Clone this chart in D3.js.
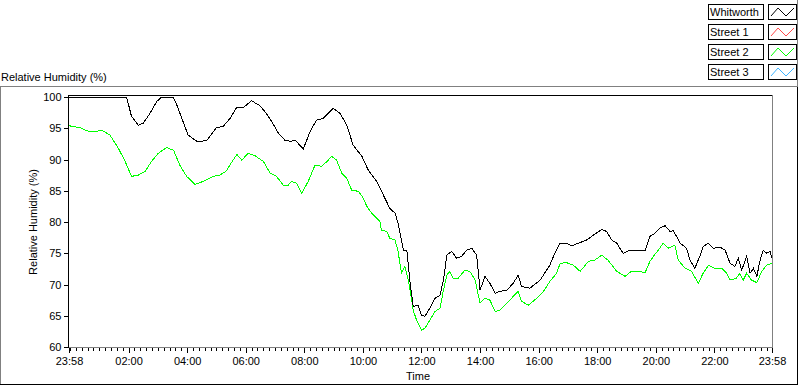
<!DOCTYPE html>
<html>
<head>
<meta charset="utf-8">
<script src="https://cdn.jsdelivr.net/npm/d3@7"></script>
<style>
    body { margin: 0; background: #fff; }
    svg text { font-family: "Liberation Sans", Arial, sans-serif; font-size: 11px; fill: #000; }
</style>
</head>
<body>
<div id="chart"></div>
<script>
// -----------------------------
// DATA
// -----------------------------
const seriesNames = ["Whitworth", "Street 1", "Street 2", "Street 3"];
const seriesColors = ["#000000", "#ff4a4a", "#00ff00", "#3fb4ff"];

const yTicks = [60, 65, 70, 75, 80, 85, 90, 95, 100];
const xTickLabels = ["23:58", "02:00", "04:00", "06:00", "08:00", "10:00", "12:00",
    "14:00", "16:00", "18:00", "20:00", "22:00", "23:58"];

const whitworthTimes = ["23:58", "01:56", "02:06", "02:20", "02:30", "02:44", "02:58", "03:08", "03:31",
    "03:39", "03:49", "04:02", "04:20", "04:40", "05:00", "05:14", "05:28", "05:42", "05:55", "06:12",
    "06:29", "06:39", "06:53", "07:07", "07:20", "07:31", "07:41", "07:58", "08:12", "08:25", "08:39",
    "08:59", "09:13", "09:27", "09:40", "09:58", "10:11", "10:28", "10:42", "10:55", "11:06", "11:12",
    "11:23", "11:30", "11:36", "11:43", "11:53", "12:00", "12:07", "12:17", "12:28", "12:38", "12:45",
    "12:52", "13:02", "13:12", "13:22", "13:33", "13:43", "13:53", "14:00", "14:10", "14:20", "14:31",
    "14:41", "14:55", "15:08", "15:18", "15:25", "15:42", "16:03", "16:23", "16:33", "16:44", "16:57",
    "17:08", "17:21", "17:38", "17:52", "18:09", "18:19", "18:30", "18:40", "18:53", "19:07", "19:21",
    "19:38", "19:48", "19:58", "20:08", "20:19", "20:29", "20:36", "20:50", "21:03", "21:10", "21:20",
    "21:30", "21:37", "21:48", "21:58", "22:11", "22:22", "22:32", "22:42", "22:49", "22:56", "23:06",
    "23:13", "23:20", "23:27", "23:33", "23:40", "23:47", "23:54", "23:58"];
const whitworthRH = [100, 100, 96.9, 95.5, 95.8, 97.4, 99.3, 100, 100,
    98.7, 96.6, 93.9, 92.9, 93.0, 95.1, 95.3, 96.6, 98.4, 98.3, 99.4,
    98.6, 97.7, 96.1, 94.2, 93.1, 92.9, 93.1, 91.7, 94.5, 96.3, 96.6,
    98.2, 97.4, 95.5, 92.3, 90.5, 88.3, 86.5, 84.3, 82.2, 81.4, 79.8,
    75.5, 75.5, 70.7, 66.5, 66.7, 65.1, 64.9, 66.2, 67.8, 68.3, 70.7,
    74.7, 75.3, 74.2, 74.5, 75.5, 75.8, 74.7, 69.1, 71.3, 70.2, 68.6,
    68.9, 69.1, 70.2, 71.5, 69.7, 69.4, 70.7, 73.1, 75.0, 76.6, 76.6,
    76.2, 76.6, 77.1, 77.9, 78.8, 78.5, 77.1, 76.6, 75.0, 75.5, 75.5,
    75.4, 77.7, 78.2, 79.0, 79.4, 78.5, 78.6, 76.6, 75.8, 73.9, 72.6,
    74.5, 76.1, 76.6, 75.8, 76.0, 75.5, 73.4, 72.9, 74.2, 72.3, 74.5,
    71.8, 72.6, 71.3, 73.7, 75.5, 75.0, 75.3, 74.2];

const street2Times = ["23:58", "00:20", "00:38", "00:55", "01:05", "01:22", "01:39", "01:53", "02:06",
    "02:20", "02:34", "02:47", "03:01", "03:18", "03:32", "03:45", "03:59", "04:16", "04:33", "04:54",
    "05:07", "05:21", "05:28", "05:42", "05:52", "06:05", "06:19", "06:36", "06:50", "07:03", "07:17",
    "07:27", "07:34", "07:44", "07:55", "08:08", "08:22", "08:36", "08:49", "08:56", "09:06", "09:17",
    "09:27", "09:37", "09:51", "10:01", "10:08", "10:18", "10:35", "10:38", "10:49", "10:55", "11:06",
    "11:12", "11:19", "11:26", "11:33", "11:40", "11:43", "11:50", "12:00", "12:07", "12:17", "12:28",
    "12:38", "12:45", "12:52", "12:58", "13:05", "13:15", "13:29", "13:39", "13:50", "14:00", "14:10",
    "14:20", "14:31", "14:41", "14:55", "15:08", "15:18", "15:25", "15:39", "15:56", "16:10", "16:23",
    "16:37", "16:44", "16:57", "17:11", "17:25", "17:42", "17:55", "18:09", "18:22", "18:40", "18:57",
    "19:10", "19:27", "19:38", "19:48", "19:55", "20:08", "20:15", "20:25", "20:39", "20:46", "21:00",
    "21:13", "21:27", "21:37", "21:48", "22:01", "22:15", "22:25", "22:32", "22:45", "22:52", "22:59",
    "23:06", "23:16", "23:27", "23:37", "23:47", "23:58"];
const street2RH = [95.4, 95.1, 94.5, 94.5, 94.7, 93.9, 91.8, 89.7, 87.3,
    87.5, 88.1, 89.7, 91.0, 91.9, 91.5, 89.1, 87.3, 86.0, 86.5, 87.3,
    87.5, 88.2, 89.2, 90.8, 89.9, 91.0, 90.6, 89.7, 87.8, 87.3, 85.9,
    85.9, 86.5, 86.2, 84.6, 86.5, 89.1, 88.9, 89.9, 90.5, 89.9, 87.8,
    87.0, 85.1, 84.9, 83.8, 82.5, 81.4, 80.1, 78.7, 78.5, 77.4, 77.1,
    75.3, 71.8, 72.9, 70.7, 67.5, 65.9, 64.3, 62.7, 63.0, 64.3, 65.7,
    66.2, 69.1, 71.5, 72.1, 71.0, 71.0, 72.3, 72.1, 70.7, 67.0, 67.8,
    67.5, 65.7, 65.9, 67.0, 68.1, 68.9, 67.3, 66.7, 67.8, 68.9, 70.5,
    71.8, 73.4, 73.5, 73.1, 72.1, 73.7, 73.9, 74.7, 73.9, 72.1, 71.3,
    72.1, 72.1, 71.9, 73.7, 74.5, 75.8, 76.6, 75.8, 76.3, 73.9, 72.6,
    72.1, 70.2, 71.8, 73.1, 72.6, 72.6, 71.8, 70.7, 71.0, 71.8, 70.7,
    71.8, 70.7, 70.3, 72.1, 73.1, 73.4];

// -----------------------------
// TIME PARSING (day rolls over after midnight)
// -----------------------------
function toDates(times) {
    let day = 0, prev = -1;
    return times.map(s => {
        const [h, m] = s.split(":").map(Number);
        const mins = h * 60 + m;
        if (mins < prev) day++;
        prev = mins;
        return new Date(2000, 0, 1 + day, h, m);
    });
}

const lines = [
    { name: "Whitworth", color: seriesColors[0], dates: toDates(whitworthTimes), values: whitworthRH },
    { name: "Street 2", color: seriesColors[2], dates: toDates(street2Times), values: street2RH }
];

const majorDates = toDates(xTickLabels);

// -----------------------------
// SVG SETUP
// -----------------------------
const width = 800, height = 386;
const plot = { left: 69, right: 772, top: 97, bottom: 347 };

const svg = d3.select("#chart").append("svg")
    .attr("width", width)
    .attr("height", height);

const x = d3.scaleTime()
    .domain([majorDates[0], majorDates[majorDates.length - 1]])
    .range([plot.left, plot.right]);

const y = d3.scaleLinear()
    .domain([60, 100])
    .range([plot.bottom, plot.top]);

// -----------------------------
// OUTER FRAME
// -----------------------------
svg.append("path")
    .attr("d", `M0.5,385 V86.5 H798`)
    .attr("fill", "none").attr("stroke", "#808080").attr("shape-rendering", "crispEdges");
svg.append("path")
    .attr("d", `M797.5,87 V384.5 H0`)
    .attr("fill", "none").attr("stroke", "#000").attr("shape-rendering", "crispEdges");
svg.append("path")
    .attr("d", `M797.5,0 V87`)
    .attr("fill", "none").attr("stroke", "#808080").attr("shape-rendering", "crispEdges");

// -----------------------------
// TITLE + AXIS LABELS
// -----------------------------
svg.append("text").attr("x", 1).attr("y", 81).text("Relative Humidity (%)");

svg.append("text")
    .attr("transform", `translate(37,${(plot.top + plot.bottom) / 2}) rotate(-90)`)
    .attr("text-anchor", "middle")
    .text("Relative Humidity (%)");

svg.append("text")
    .attr("x", 418).attr("y", 380)
    .attr("text-anchor", "middle")
    .text("Time");

// -----------------------------
// PLOT FRAME
// -----------------------------
svg.append("path")
    .attr("d", `M${plot.left - 0.5},${plot.bottom} V${plot.top - 1.5} H${plot.right}`)
    .attr("fill", "none").attr("stroke", "#000").attr("shape-rendering", "crispEdges");
svg.append("path")
    .attr("d", `M${plot.right + 0.5},${plot.top - 2} V${plot.bottom + 0.5} H${plot.left}`)
    .attr("fill", "none").attr("stroke", "#808080").attr("shape-rendering", "crispEdges");

// -----------------------------
// AXES
// -----------------------------
const yAxis = svg.append("g")
    .attr("transform", `translate(${plot.left - 0.5},0)`)
    .call(d3.axisLeft(y).tickValues(yTicks).tickSize(5).tickPadding(2).tickSizeOuter(0));
yAxis.select(".domain").remove();

const minorDates = d3.timeMinute.every(12).range(x.domain()[0], x.domain()[1]);
const xMinor = svg.append("g")
    .attr("transform", `translate(0,${plot.bottom + 1})`)
    .call(d3.axisBottom(x).tickValues(minorDates).tickSize(3).tickFormat(""));
xMinor.select(".domain").remove();

const xAxis = svg.append("g")
    .attr("transform", `translate(0,${plot.bottom + 1})`)
    .call(d3.axisBottom(x).tickValues(majorDates).tickSize(5).tickPadding(4)
        .tickFormat(d3.timeFormat("%H:%M")));
xAxis.select(".domain").remove();

svg.selectAll(".tick line").attr("shape-rendering", "crispEdges").attr("stroke", "#000");
svg.selectAll(".tick text")
    .style("font-family", "\"Liberation Sans\", Arial, sans-serif")
    .style("font-size", "11px");

// -----------------------------
// LINES
// -----------------------------
const line = d3.line()
    .x(d => x(d[0]))
    .y(d => y(d[1]));

[lines[1], lines[0]].forEach(s => {
    svg.append("path")
        .datum(d3.zip(s.dates, s.values))
        .attr("fill", "none")
        .attr("stroke", s.color)
        .attr("stroke-width", 1)
        .attr("shape-rendering", "crispEdges")
        .attr("d", line);
});

// -----------------------------
// LEGEND
// -----------------------------
const legend = svg.append("g").attr("transform", "translate(708,4)");

seriesNames.forEach((name, i) => {
    const row = legend.append("g").attr("transform", `translate(0,${i * 20})`);
    row.append("rect")
        .attr("x", 0.5).attr("y", 0.5).attr("width", 55).attr("height", 15)
        .attr("fill", "#fff").attr("stroke", "#000").attr("shape-rendering", "crispEdges");
    row.append("text").attr("x", 2).attr("y", 12).text(name);
    row.append("rect")
        .attr("x", 60.5).attr("y", 0.5).attr("width", 28).attr("height", 15)
        .attr("fill", "#fff").attr("stroke", "#000").attr("shape-rendering", "crispEdges");
    row.append("path")
        .attr("d", "M63,12 L70,4 L78,12 L86,4")
        .attr("fill", "none").attr("stroke", seriesColors[i]).attr("stroke-width", 1);
});
</script>
</body>
</html>
